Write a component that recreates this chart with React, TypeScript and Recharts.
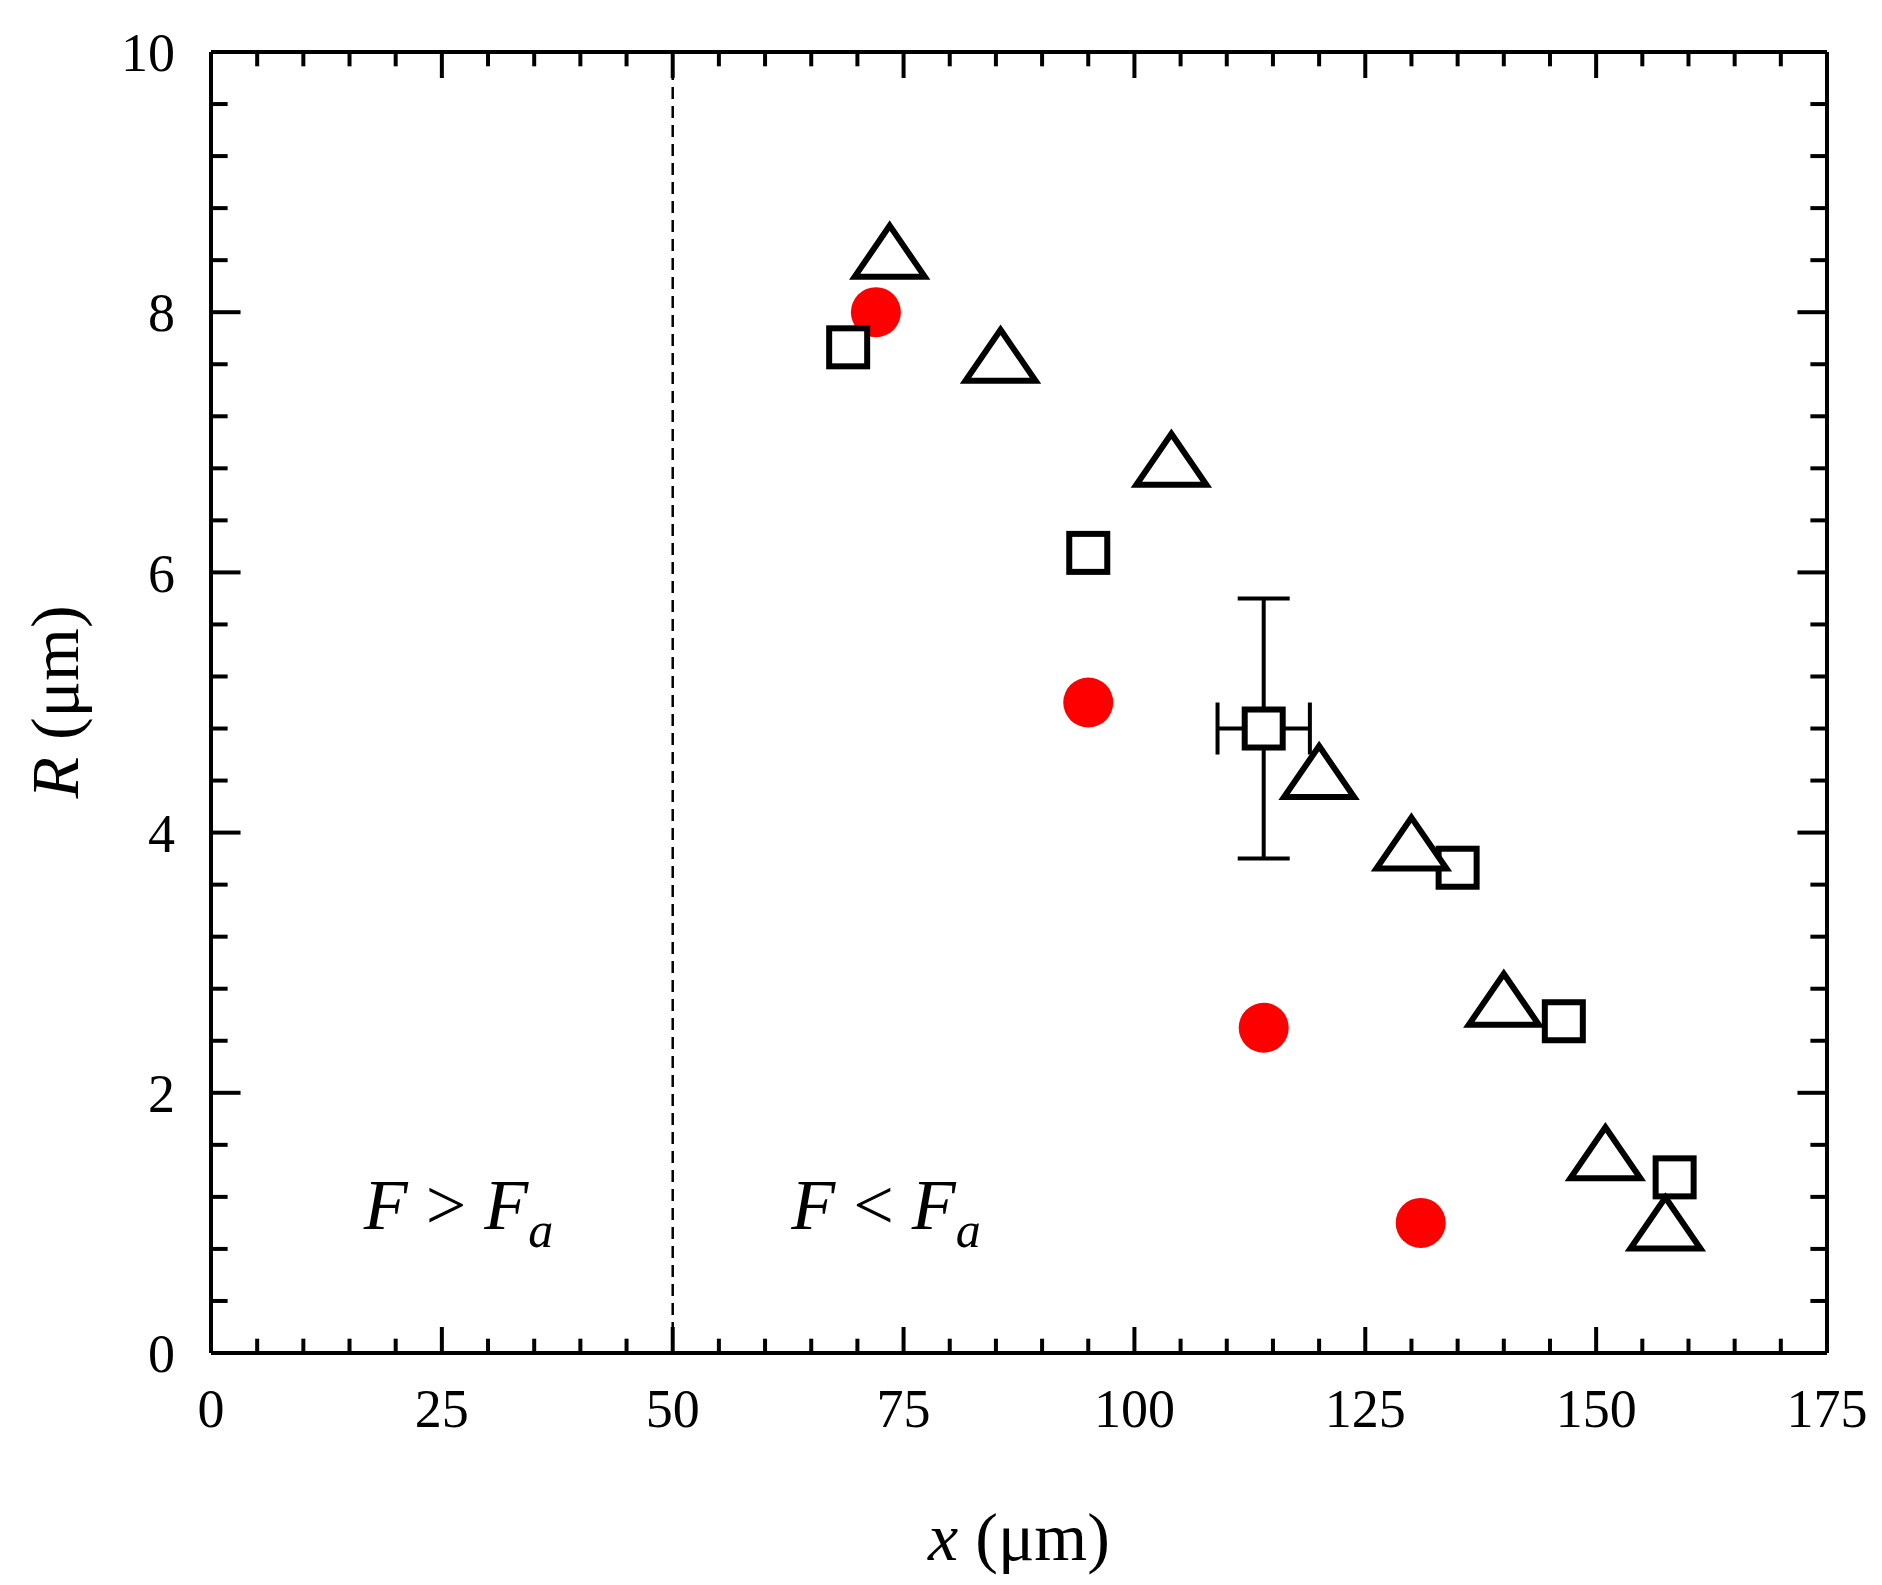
import React from 'react';
import { ScatterChart, Scatter, XAxis, YAxis, ReferenceLine, ReferenceDot, ErrorBar } from 'recharts';

const circles = [
  { x: 72, y: 8.0 }, { x: 95, y: 5.0 }, { x: 114, y: 2.5 }, { x: 131, y: 1.0 },
];
const squares = [
  { x: 69, y: 7.73, ex: 0, ey: 0 }, { x: 95, y: 6.15, ex: 0, ey: 0 }, { x: 114, y: 4.8, ex: 5, ey: 1 },
  { x: 135, y: 3.73, ex: 0, ey: 0 }, { x: 146.5, y: 2.55, ex: 0, ey: 0 }, { x: 158.5, y: 1.35, ex: 0, ey: 0 },
];
const triangles = [
  { x: 73.5, y: 8.45 }, { x: 85.5, y: 7.65 }, { x: 104, y: 6.85 }, { x: 120, y: 4.45 },
  { x: 130, y: 3.9 }, { x: 140, y: 2.7 }, { x: 151, y: 1.52 }, { x: 157.5, y: 0.98 },
];
const xTicks = [0, 25, 50, 75, 100, 125, 150, 175];
const yTicks = [0, 2, 4, 6, 8, 10];
const xMinor = Array.from({ length: 36 }, (_, i) => i * 5);
const yMinor = Array.from({ length: 26 }, (_, i) => Math.round(i * 4) / 10);

const FONT = 'Liberation Serif, Times New Roman, serif';

const Circle = (p: any) => <circle cx={p.cx} cy={p.cy} r={25} fill="#ff0000" />;
const Square = (p: any) => <rect x={p.cx - 19} y={p.cy - 19} width={38} height={38} fill="white" stroke="black" strokeWidth={6} />;
const Tri = (p: any) => (
  <polygon points={`${p.cx},${p.cy - 28} ${p.cx + 35},${p.cy + 23} ${p.cx - 35},${p.cy + 23}`} fill="white" stroke="black" strokeWidth={6} strokeLinejoin="miter" />
);

const regionLabel = (rel: string) => (props: any) => {
  const { x, y } = props.viewBox || {};
  return (
    <text x={x} y={y} textAnchor="middle" fontFamily={FONT} fontSize={72} fontStyle="italic">
      <tspan>F</tspan><tspan fontStyle="normal">{` ${rel} `}</tspan><tspan>F</tspan>
      <tspan fontSize={50} dy={18}>a</tspan>
    </text>
  );
};

export default function App() {
  const xMaj = 0.2, xMin = 0.11;
  const yMaj = 3.2, yMin = 1.8;
  return (
    <div style={{ position: 'absolute', left: 0, top: 0, background: 'white' }}>
      <ScatterChart width={1882} height={1585} margin={{ left: 0, top: 0, right: 0, bottom: 0 }}>
        <XAxis type="number" dataKey="x" domain={[0, 175]} ticks={xTicks} height={232} tickLine={false}
          axisLine={{ stroke: 'black', strokeWidth: 4 }} tickMargin={30}
          tick={{ fontFamily: FONT, fontSize: 54, fill: 'black' }}
          label={{ content: () => (
            <text x={1019} y={1560} textAnchor="middle" fontFamily={FONT} fontSize={68}>
              <tspan fontStyle="italic">x</tspan><tspan> (μm)</tspan>
            </text>) }} />
        <XAxis xAxisId="top" orientation="top" type="number" dataKey="x" domain={[0, 175]} height={52} tick={false} tickLine={false} axisLine={{ stroke: 'black', strokeWidth: 4 }} />
        <YAxis type="number" dataKey="y" domain={[0, 10]} ticks={yTicks} width={211} tickLine={false}
          axisLine={{ stroke: 'black', strokeWidth: 4 }} tickMargin={30}
          tick={{ fontFamily: FONT, fontSize: 54, fill: 'black' }}
          label={{ content: () => (
            <text x={78} y={702} textAnchor="middle" fontFamily={FONT} fontSize={68} transform="rotate(-90 78 702)">
              <tspan fontStyle="italic">R</tspan><tspan> (μm)</tspan>
            </text>) }} />
        <YAxis yAxisId="right" orientation="right" type="number" domain={[0, 10]} width={55} tick={false} tickLine={false} axisLine={{ stroke: 'black', strokeWidth: 4 }} />

        {xMinor.map((t) => {
          const L = t % 25 === 0 ? xMaj : xMin;
          return (
            <React.Fragment key={'x' + t}>
              <ReferenceLine segment={[{ x: t, y: 0 }, { x: t, y: L }]} stroke="black" strokeWidth={4} ifOverflow="visible" />
              <ReferenceLine segment={[{ x: t, y: 10 }, { x: t, y: 10 - L }]} stroke="black" strokeWidth={4} ifOverflow="visible" />
            </React.Fragment>
          );
        })}
        {yMinor.map((t) => {
          const L = Math.abs(t / 2 - Math.round(t / 2)) < 1e-6 ? yMaj : yMin;
          return (
            <React.Fragment key={'y' + t}>
              <ReferenceLine segment={[{ x: 0, y: t }, { x: L, y: t }]} stroke="black" strokeWidth={4} ifOverflow="visible" />
              <ReferenceLine segment={[{ x: 175, y: t }, { x: 175 - L, y: t }]} stroke="black" strokeWidth={4} ifOverflow="visible" />
            </React.Fragment>
          );
        })}

        <ReferenceLine x={50} stroke="black" strokeWidth={2.5} strokeDasharray="12 7" />
        <ReferenceDot x={26.8} y={0.95} r={0} fill="none" stroke="none" label={{ content: regionLabel('>') }} />
        <ReferenceDot x={73.1} y={0.95} r={0} fill="none" stroke="none" label={{ content: regionLabel('<') }} />

        <Scatter data={circles} shape={Circle} isAnimationActive={false} />
        <Scatter data={squares} shape={Square} isAnimationActive={false}>
          <ErrorBar dataKey="ey" direction="y" width={26} stroke="black" strokeWidth={4} />
          <ErrorBar dataKey="ex" direction="x" width={26} stroke="black" strokeWidth={4} />
        </Scatter>
        <Scatter data={triangles} shape={Tri} isAnimationActive={false} />
      </ScatterChart>
    </div>
  );
}
